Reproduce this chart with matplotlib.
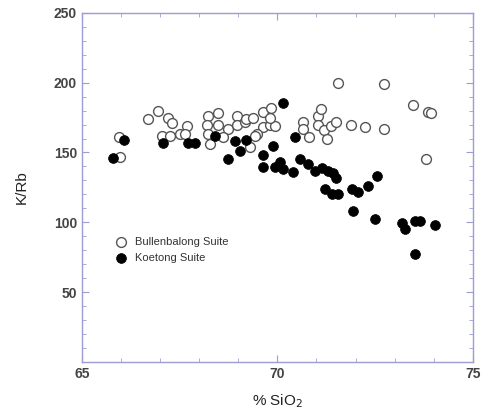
import matplotlib
matplotlib.use('Agg')
import matplotlib.pyplot as plt
from matplotlib.ticker import MultipleLocator

plt.rcParams.update({
    'font.family': ['Liberation Sans', 'DejaVu Sans'],
    'font.size': 10,
})

# Bullenbalong Suite (open circles)
bull_sio2 = [65.95, 65.98, 66.70, 66.95, 67.21, 67.30, 67.04, 67.25, 67.51, 67.68,
             67.63, 68.23, 68.49, 68.19, 68.23, 68.27, 68.49, 68.74, 68.61, 68.96,
             68.96, 69.17, 69.21, 69.38, 69.64, 69.85, 69.64, 69.81, 69.94, 69.47,
             69.30, 69.42, 69.81, 70.66, 70.66, 70.81, 71.03, 71.11, 71.03, 71.20,
             71.37, 71.50, 71.28, 71.56, 71.88, 72.25, 72.73, 72.73, 73.46, 73.86,
             73.94, 73.81]
bull_krb = [161, 146.6, 174, 180, 175, 171, 162, 162, 163, 169,
            163, 176, 178, 170, 163, 156, 170, 167, 161, 176,
            170, 172, 174, 175, 179, 182, 168, 170, 169, 163,
            154, 162, 175, 172, 167, 161, 176, 181, 170, 166,
            169, 172, 160, 200, 170, 168, 199, 167, 184, 179,
            178, 145]

# Koetong Suite (filled circles)
koet_sio2 = [65.80, 66.07, 67.08, 67.72, 67.89, 68.40, 68.74, 68.91, 69.04, 69.21,
             69.64, 69.64, 69.89, 69.94, 70.06, 70.15, 70.14, 70.46, 70.40, 70.58,
             70.79, 70.96, 71.13, 71.30, 71.43, 71.51, 71.21, 71.39, 71.56, 71.90,
             72.07, 72.32, 72.54, 71.94, 72.49, 73.18, 73.26, 73.52, 73.64, 74.03,
             73.52]
koet_krb = [146, 159, 157, 157, 157, 162, 145, 158, 151, 159,
            148, 139.5, 154.5, 139.5, 143, 138, 185.5, 161, 136, 145,
            142, 137, 139, 137, 135, 132, 124, 120, 120, 124,
            122, 126, 133, 108, 102, 99.5, 95, 101, 101, 98,
            77.6]

fig = plt.figure(figsize=(4.87, 4.15), dpi=100)
ax = fig.add_axes([0.168, 0.128, 0.803, 0.841])

ax.scatter(bull_sio2, bull_krb, s=50, facecolors='white', edgecolors='#555555',
           linewidths=1.0, label='Bullenbalong Suite', zorder=3)
ax.scatter(koet_sio2, koet_krb, s=50, facecolors='black', edgecolors='black',
           linewidths=0.5, label='Koetong Suite', zorder=4)

ax.set_xlim(65, 75)
ax.set_ylim(0, 250)
ax.set_xticks([65, 70, 75])
ax.set_yticks([50, 100, 150, 200, 250])
ax.xaxis.set_minor_locator(MultipleLocator(1))
ax.yaxis.set_minor_locator(MultipleLocator(10))

spine_c = '#9d9dd6'
for s in ax.spines.values():
    s.set_color(spine_c)
    s.set_linewidth(1.0)
ax.tick_params(which='both', direction='in', top=True, right=True, color=spine_c,
               labelcolor='#444444', labelsize=10)
ax.tick_params(which='major', length=5)
ax.tick_params(which='minor', length=3)
for lbl in ax.get_xticklabels() + ax.get_yticklabels():
    lbl.set_fontweight('bold')

ax.set_xlabel('% SiO$_2$', fontsize=11, color='#222222', labelpad=8)
ax.set_ylabel('K/Rb', fontsize=11, color='#222222', labelpad=18)

leg = ax.legend(loc='upper left', bbox_to_anchor=(0.06, 0.37), frameon=False,
                fontsize=8, handletextpad=0.3, labelspacing=0.5, borderaxespad=0)
for t in leg.get_texts():
    t.set_color('#333333')

fig.savefig('out.png', dpi=100)
